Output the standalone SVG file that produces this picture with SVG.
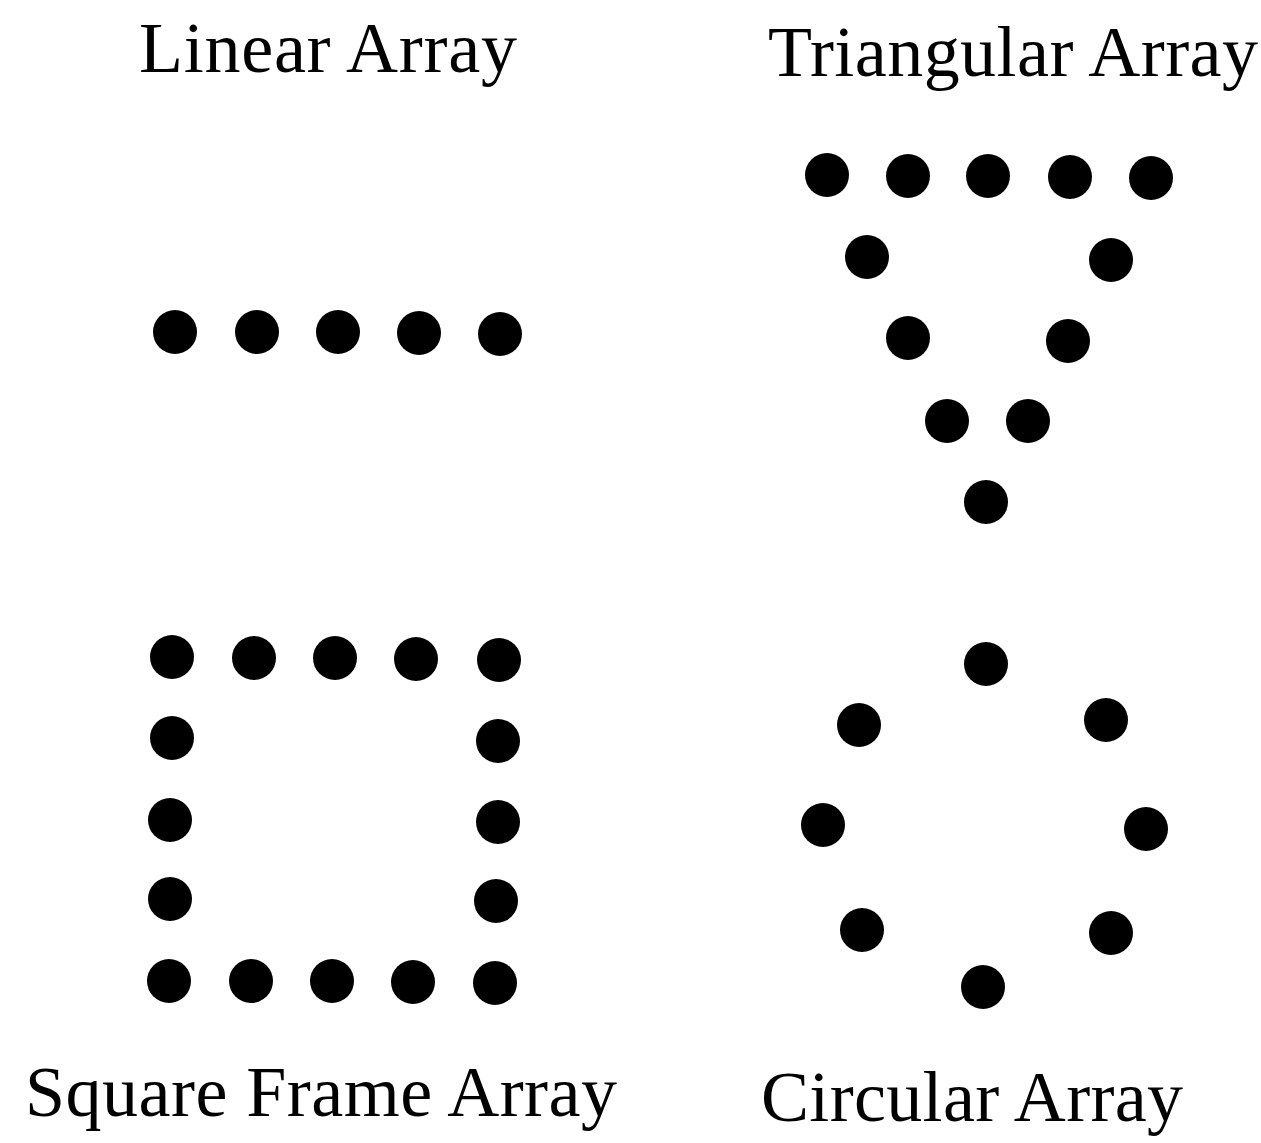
<svg xmlns="http://www.w3.org/2000/svg" width="1261" height="1143" viewBox="0 0 1261 1143">
<style>
.lbl{font-family:"Liberation Serif","Times New Roman",serif;font-size:72px;fill:#000}
.d{fill:#000}
</style>
<rect width="1261" height="1143" fill="#fff"/>
<g id="linear">
<text class="lbl" x="139" y="72" textLength="378" lengthAdjust="spacing">Linear Array</text>
<circle class="d" cx="175" cy="332" r="22"/>
<circle class="d" cx="257" cy="332" r="22"/>
<circle class="d" cx="338" cy="332" r="22"/>
<circle class="d" cx="419" cy="333" r="22"/>
<circle class="d" cx="500" cy="334" r="22"/>
</g>
<g id="triangular">
<text class="lbl" x="768" y="76" textLength="490" lengthAdjust="spacing">Triangular Array</text>
<circle class="d" cx="827" cy="175" r="22"/>
<circle class="d" cx="908" cy="176" r="22"/>
<circle class="d" cx="988" cy="176" r="22"/>
<circle class="d" cx="1070" cy="177" r="22"/>
<circle class="d" cx="1151" cy="178" r="22"/>
<circle class="d" cx="867" cy="257" r="22"/>
<circle class="d" cx="1111" cy="260" r="22"/>
<circle class="d" cx="908" cy="338" r="22"/>
<circle class="d" cx="1068" cy="341" r="22"/>
<circle class="d" cx="947" cy="421" r="22"/>
<circle class="d" cx="1028" cy="421" r="22"/>
<circle class="d" cx="986" cy="502" r="22"/>
</g>
<g id="square">
<text class="lbl" x="25" y="1116" textLength="592" lengthAdjust="spacing">Square Frame Array</text>
<circle class="d" cx="172" cy="657" r="22"/>
<circle class="d" cx="254" cy="658" r="22"/>
<circle class="d" cx="335" cy="658" r="22"/>
<circle class="d" cx="416" cy="659" r="22"/>
<circle class="d" cx="499" cy="660" r="22"/>
<circle class="d" cx="172" cy="738" r="22"/>
<circle class="d" cx="498" cy="741" r="22"/>
<circle class="d" cx="170" cy="820" r="22"/>
<circle class="d" cx="498" cy="822" r="22"/>
<circle class="d" cx="170" cy="899" r="22"/>
<circle class="d" cx="496" cy="901" r="22"/>
<circle class="d" cx="169" cy="981" r="22"/>
<circle class="d" cx="251" cy="981" r="22"/>
<circle class="d" cx="332" cy="981" r="22"/>
<circle class="d" cx="413" cy="982" r="22"/>
<circle class="d" cx="495" cy="983" r="22"/>
</g>
<g id="circular">
<text class="lbl" x="761" y="1121" textLength="422" lengthAdjust="spacing">Circular Array</text>
<circle class="d" cx="986" cy="664" r="22"/>
<circle class="d" cx="859" cy="725" r="22"/>
<circle class="d" cx="1106" cy="720" r="22"/>
<circle class="d" cx="823" cy="825" r="22"/>
<circle class="d" cx="1146" cy="829" r="22"/>
<circle class="d" cx="862" cy="930" r="22"/>
<circle class="d" cx="1111" cy="933" r="22"/>
<circle class="d" cx="983" cy="987" r="22"/>
</g>
<g id="connectors"/>
</svg>
